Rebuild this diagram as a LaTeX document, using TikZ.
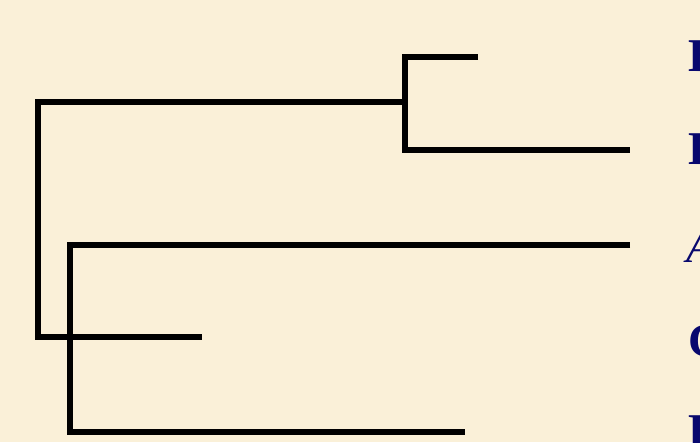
\documentclass[tikz,border=0pt]{standalone}
\usepackage{fontspec}
\setmainfont{Liberation Serif}
\definecolor{paper}{RGB}{250,240,216}
\definecolor{navy}{RGB}{8,8,110}
\begin{document}
\begin{tikzpicture}[x=1pt,y=-1pt,
  branch/.style={line width=5.5pt,line cap=butt,line join=miter},
  leaf/.style={anchor=base west,inner sep=0pt,text=navy,font=\fontsize{47}{50}\selectfont}]
\useasboundingbox (0,0) rectangle (700,442);
\fill[paper] (0,0) rectangle (700,442);
\clip (0,0) rectangle (700,442);
% junctions and branch tips
\coordinate (root-top) at (38,102);
\coordinate (root-bot) at (38,337);
\coordinate (j1) at (405,102);
\coordinate (j1-top) at (405,57);
\coordinate (j1-bot) at (405,150);
\coordinate (tip1) at (478,57);
\coordinate (tip2) at (630,150);
\coordinate (j2-top) at (70,245);
\coordinate (j2-bot) at (70,432);
\coordinate (tip3) at (630,245);
\coordinate (tip4) at (202,337);
\coordinate (tip5) at (465,432);
% tree
\draw[branch] (j1) -- (root-top) -- (root-bot) -- (tip4);
\draw[branch] (tip1) -- (j1-top) -- (j1-bot) -- (tip2);
\draw[branch] (tip3) -- (j2-top) -- (j2-bot) -- (tip5);
% leaf labels
\node[leaf,font=\fontsize{47}{50}\selectfont\bfseries] (l1) at (688,71) {B};
\node[leaf,font=\fontsize{47}{50}\selectfont\bfseries] (l2) at (688,164) {D};
\node[leaf,font=\fontsize{47}{50}\selectfont\itshape] (l3) at (686,262) {A};
\node[leaf,font=\fontsize{47}{50}\selectfont\bfseries] (l4) at (688,356) {C};
\node[leaf,font=\fontsize{47}{50}\selectfont\bfseries] (l5) at (688,446) {E};
\end{tikzpicture}
\end{document}
